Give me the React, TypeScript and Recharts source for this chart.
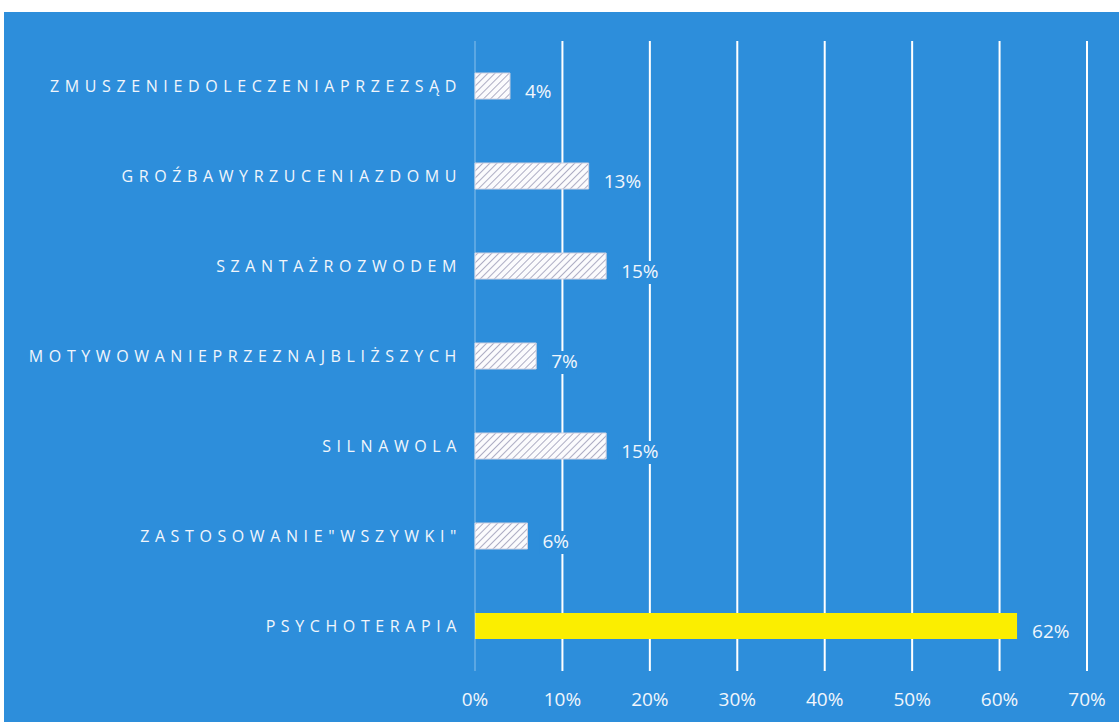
import { Bar, BarChart, CartesianGrid, Cell, LabelList, ReferenceLine, XAxis, YAxis } from "recharts";

const categories = [
  "ZMUSZENIEDOLECZENIAPRZEZSĄD",
  "GROŹBAWYRZUCENIAZDOMU",
  "SZANTAŻROZWODEM",
  "MOTYWOWANIEPRZEZNAJBLIŻSZYCH",
  "SILNAWOLA",
  'ZASTOSOWANIE"WSZYWKI"',
  "PSYCHOTERAPIA",
];
const shares = [4, 13, 15, 7, 15, 6, 62];
const highlighted = [false, false, false, false, false, false, true];
const xTicks = [0, 10, 20, 30, 40, 50, 60, 70];

const BLUE = "#2d8edb";
const YELLOW = "#fbee00";
const TEXT = "#f1f6fc";

const data = categories.map((name, i) => ({ name, value: shares[i], hi: highlighted[i] }));

function ValueLabel(props: any) {
  const { x, y, width, height, value } = props;
  const tx = x + width + 15;
  const ty = y + height / 2 + 12;
  const label = `${value}%`;
  return (
    <g>
      <rect x={tx - 3} y={ty - 17} width={label.length * 11 + 6} height={23} fill={BLUE} />
      <text x={tx} y={ty} fill={TEXT} fontSize={19} fontFamily="Open Sans, sans-serif">
        {label}
      </text>
    </g>
  );
}

export default function App() {
  return (
    <div style={{ position: "fixed", left: 0, top: 0, width: 1119, height: 722, background: "#fff" }}>
      <div style={{ position: "absolute", left: 4, top: 12, width: 1115, height: 710, background: BLUE }}>
        <BarChart
          width={1115}
          height={710}
          data={data}
          layout="vertical"
          margin={{ top: 29, right: 32, bottom: 11, left: 0 }}
          barSize={26}
        >
          <defs>
            <pattern id="hatch" width="5" height="5" patternUnits="userSpaceOnUse" patternTransform="rotate(45)">
              <rect width="5" height="5" fill="#fbfbfd" />
              <line x1="0" y1="0" x2="0" y2="5" stroke="#adadc4" strokeWidth="2" />
            </pattern>
          </defs>
          <CartesianGrid horizontal={false} verticalValues={[10, 20, 30, 40, 50, 60, 70]} stroke="#ffffff" strokeWidth={2} />
          <ReferenceLine x={0} stroke="rgba(255,255,255,0.45)" strokeWidth={1} />
          <XAxis
            type="number"
            domain={[0, 70]}
            ticks={xTicks}
            tickFormatter={(v) => `${v}%`}
            axisLine={false}
            tickLine={false}
            tickSize={0}
            tickMargin={22}
            height={40}
            tick={{ fill: TEXT, fontSize: 19, fontFamily: "Open Sans, sans-serif" }}
          />
          <YAxis
            type="category"
            dataKey="name"
            width={471}
            axisLine={false}
            tickLine={false}
            tickSize={0}
            tickMargin={13}
            interval={0}
            tick={{ fill: TEXT, fontSize: 16, fontFamily: "Open Sans, sans-serif", letterSpacing: 5.6 }}
          />
          <Bar dataKey="value" isAnimationActive={false}>
            {data.map((d, i) => (
              <Cell
                key={i}
                fill={d.hi ? YELLOW : "url(#hatch)"}
                stroke={d.hi ? "none" : "#cfd0e0"}
                strokeWidth={1}
              />
            ))}
            <LabelList dataKey="value" content={ValueLabel} />
          </Bar>
        </BarChart>
      </div>
    </div>
  );
}
